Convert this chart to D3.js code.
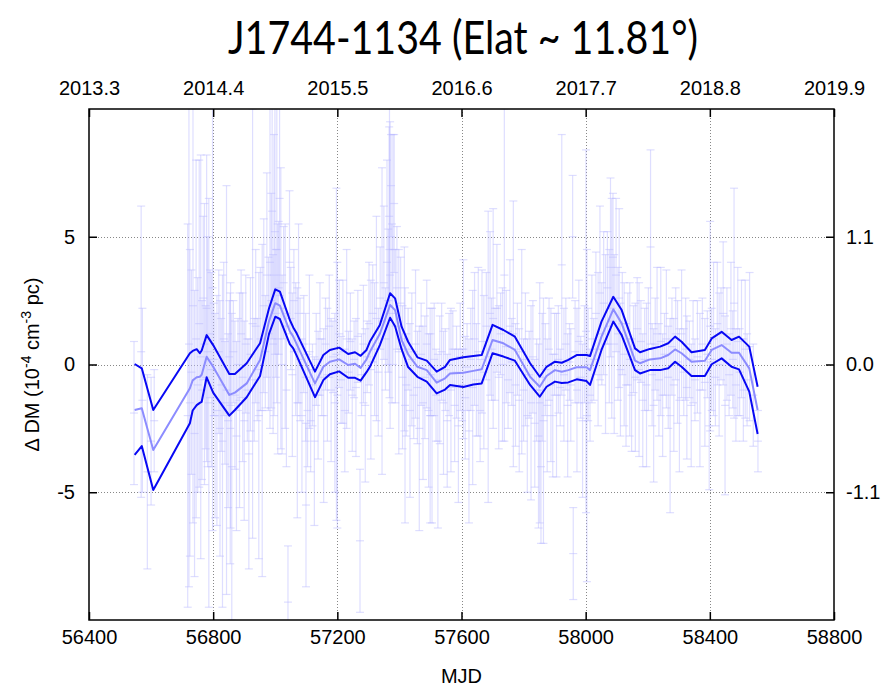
<!DOCTYPE html>
<html><head><meta charset="utf-8">
<script src="https://cdn.jsdelivr.net/npm/d3@7"></script>
<style>body{margin:0;background:#fff}</style>
</head><body>
<svg id="chart" width="886" height="688"></svg>
<script>
const titleText = "J1744-1134 (Elat ~ 11.81°)";
const xLabel = "MJD";
const xTicks = [56400, 56800, 57200, 57600, 58000, 58400, 58800];
const topTickLabels = ["2013.3", "2014.4", "2015.5", "2016.6", "2017.7", "2018.8", "2019.9"];
const yTicks = [-5, 0, 5];
const rightTicks = [-1.1, 0, 1.1];

// smoothed DM curve (mid) and its upper / lower envelope
const curveMJD = [56547,56570,56607,56725,56734,56747,56757,56763,56779,56800,56852,56870,56908,56951,56980,57000,57015,57047,57058,57069,57128,57155,57176,57206,57235,57257,57275,57294,57305,57337,57370,57386,57407,57428,57458,57488,57520,57547,57563,57606,57638,57665,57700,57735,57772,57821,57852,57874,57901,57923,57944,57971,58003,58014,58051,58089,58116,58159,58175,58207,58240,58266,58288,58309,58341,58384,58406,58438,58470,58494,58527,58554];
const curveUpper = [0.02,-0.15,-1.78,0.44,0.53,0.60,0.44,0.55,1.15,0.76,-0.37,-0.37,0.05,0.83,2.20,2.94,2.85,1.74,1.45,1.22,-0.28,0.37,0.57,0.66,0.41,0.48,0.34,0.57,0.90,1.55,2.79,2.59,1.48,0.89,0.28,0.15,-0.28,-0.09,0.18,0.28,0.33,0.37,1.55,1.35,1.09,0.05,-0.48,-0.09,0.11,0.07,0.18,0.37,0.37,0.33,1.68,2.65,2.13,0.63,0.48,0.61,0.70,0.83,1.09,0.89,0.48,0.57,1.02,1.28,0.96,1.09,0.70,-0.87];
const curveMid = [-1.78,-1.71,-3.35,-0.93,-0.62,-0.50,-0.48,-0.40,0.30,-0.09,-1.19,-1.10,-0.74,0.18,1.70,2.40,2.30,1.30,1.09,0.80,-0.74,-0.09,0.11,0.20,-0.02,0.03,-0.13,0.20,0.50,1.20,2.33,2.13,0.96,0.40,-0.09,-0.22,-0.71,-0.54,-0.35,-0.32,-0.25,-0.19,0.96,0.83,0.57,-0.48,-0.87,-0.45,-0.22,-0.28,-0.22,-0.11,-0.11,-0.22,1.09,2.16,1.61,0.15,0.05,0.20,0.24,0.37,0.59,0.44,0.11,0.15,0.57,0.76,0.46,0.46,-0.15,-1.78];
const curveLower = [-3.54,-3.19,-4.91,-2.30,-1.80,-1.59,-1.50,-1.46,-0.50,-1.10,-2.00,-1.78,-1.28,-0.45,1.20,1.87,1.78,0.80,0.63,0.35,-1.28,-0.61,-0.38,-0.27,-0.52,-0.52,-0.63,-0.30,-0.09,0.76,1.83,1.50,0.60,-0.10,-0.48,-0.67,-1.13,-0.98,-0.80,-0.88,-0.78,-0.74,0.44,0.31,0.15,-0.80,-1.26,-0.87,-0.67,-0.72,-0.70,-0.58,-0.65,-0.80,0.57,1.68,1.15,-0.22,-0.35,-0.22,-0.22,-0.15,0.11,-0.09,-0.45,-0.45,0.01,0.24,-0.09,-0.19,-1.06,-2.72];

// individual measurements: [MJD, ΔDM, error]
const obs2013 = [[56545,-1.9,2.8],[56568,0.5,5.7],[56572,-1.4,3.6],[56588,-4.2,3.8],[56600,-3.0,2.5],[56610,-2.2,2.0]];
const obs2014 = [[56718,-2.0,7.5],[56722,0.8,9.5],[56725,-1.5,6.0],[56730,-0.3,4.0],[56735,2.3,8.5],[56740,-2.7,5.6],[56745,1.0,7.0],[56750,-0.8,4.2],[56755,1.6,6.4],[56760,0.3,7.9],[56764,-1.0,3.5],[56768,2.6,3.2],[56772,0.8,5.5],[56776,-0.5,2.8],[56779,2.2,6.0],[56782,0.5,4.5],[56786,-1.5,8.0],[56790,1.2,2.5],[56794,-0.2,3.8],[56798,3.0,9.5],[56802,0.2,2.2],[56806,-2.0,4.0],[56812,-1.8,4.5],[56818,0.5,3.2],[56822,-2.5,5.0],[56826,-0.8,2.6],[56830,-3.0,6.5],[56834,1.0,3.0],[56838,-1.5,2.4],[56843,-1.0,8.0],[56848,-2.2,3.4],[56852,0.3,2.2],[56855,-2.5,5.3],[56856,-1.6,4.8],[56860,-4.0,6.0],[56865,0.5,2.0],[56870,-1.2,2.9],[56875,-2.8,3.7],[56880,0.0,1.8],[56885,-1.4,4.2],[56890,1.2,2.5],[56895,-0.5,3.3],[56900,-2.2,3.9],[56905,0.8,2.7],[56910,-1.0,2.0],[56915,-3.5,4.5],[56920,0.4,3.0],[56927,1.6,8.4],[56932,-0.6,2.4],[56937,1.5,3.0],[56942,-0.2,2.0],[56947,-2.0,5.6],[56952,1.0,2.8],[56958,-1.8,6.5],[56963,2.3,3.4],[56968,0.5,2.2],[56973,3.5,4.0],[56978,1.2,3.0],[56983,4.0,6.5],[56987,2.5,4.2],[56990,6.0,5.0],[56993,0.8,3.5],[56996,3.5,5.5],[56999,5.2,4.8],[57002,2.0,2.5],[57005,4.5,6.0],[57008,1.0,4.5],[57011,3.0,2.6],[57014,6.5,3.8],[57018,2.2,5.5],[57022,0.0,3.5],[57027,3.2,2.2],[57032,1.5,4.0],[57036,-1.0,3.0],[57041,-9.3,2.2],[57046,4.0,2.8],[57050,1.8,2.0],[57055,-0.4,3.2],[57060,2.5,2.0],[57066,0.6,2.6],[57071,-1.5,4.5],[57075,2.0,3.5],[57080,0.2,2.4],[57086,-2.0,3.0],[57092,0.8,1.9],[57098,-0.5,2.5],[57099,-5.5,3.2],[57104,-1.8,2.2],[57110,0.5,3.0],[57114,-2.2,2.0],[57120,-0.8,1.6],[57126,-3.0,3.3],[57132,0.2,1.8]];
const obs2015 = [[57138,-1.2,2.5],[57144,1.0,2.2],[57150,-0.5,1.5],[57156,-2.0,3.4],[57162,0.8,1.8],[57168,-0.4,2.6],[57174,1.5,2.0],[57180,-1.0,2.8],[57186,0.3,1.4],[57192,-1.5,3.5],[57197,0.4,6.5],[57200,-1.2,5.2],[57206,1.2,2.1],[57212,-0.6,1.7],[57218,0.5,2.8],[57224,-1.8,2.4],[57230,1.0,3.5],[57236,-0.3,1.6],[57242,0.9,1.9],[57248,-1.2,2.2],[57254,0.2,1.5],[57260,-0.9,2.7],[57266,1.1,1.8],[57273,-6.9,2.8],[57278,-0.4,1.6],[57284,0.8,2.3],[57290,-1.6,3.0],[57296,0.3,1.4],[57302,1.6,2.4],[57308,-0.2,3.5],[57314,2.0,1.9],[57320,0.6,2.6],[57326,1.8,4.0],[57332,-0.3,2.5],[57338,2.6,2.0],[57344,1.7,6.0],[57350,3.2,3.0],[57355,1.0,2.0],[57360,4.0,4.0],[57364,2.5,2.8],[57367,5.8,3.5],[57368,4.5,5.8],[57370,3.5,6.0],[57373,7.0,2.0],[57376,2.0,3.5],[57379,4.5,4.5],[57383,6.3,2.7],[57387,1.5,3.0],[57392,3.0,2.4],[57398,0.5,4.0],[57404,2.4,1.8],[57410,-0.5,2.8],[57416,1.0,3.6],[57418,-1.6,4.6],[57422,-0.8,2.0],[57428,0.6,1.6],[57434,-1.8,3.4],[57440,0.2,2.6],[57446,-1.2,1.7],[57452,0.8,2.9],[57458,-0.9,2.2],[57464,-2.5,4.0],[57470,0.4,2.0],[57476,-1.5,3.0]];
const obs2016 = [[57482,-0.5,2.4],[57488,0.8,2.5],[57494,-1.8,3.0],[57499,-2.0,4.2],[57500,-0.4,1.6],[57505,-2.0,4.2],[57512,0.2,2.2],[57518,-1.2,1.8],[57524,-3.0,3.4],[57530,-0.6,2.5],[57536,0.5,1.9],[57542,-1.5,2.8],[57548,-0.2,1.6],[57554,-2.2,2.6],[57560,0.0,2.0],[57566,-1.0,3.2],[57572,0.6,1.5],[57578,-1.6,2.2],[57584,-0.3,1.8],[57590,-2.4,3.0],[57596,0.3,2.1],[57602,-0.8,1.4],[57606,0.6,3.5],[57612,-1.3,2.4],[57618,-0.1,1.7],[57624,-2.6,3.6],[57630,0.2,2.0],[57636,-0.9,3.8],[57642,1.0,2.6],[57648,-0.6,2.2],[57654,0.5,3.3],[57660,-1.8,2.0],[57666,0.9,2.8],[57672,-0.3,3.0],[57680,1.5,2.1],[57686,0.3,5.7],[57692,2.0,3.2],[57697,0.6,2.0],[57702,1.8,4.3],[57708,0.4,1.8],[57714,2.2,2.5],[57720,-0.5,2.8],[57726,1.2,1.6],[57732,0.0,3.0],[57738,3.5,6.5],[57744,0.7,2.2],[57750,-0.6,1.9],[57756,1.5,2.6],[57762,0.1,1.7],[57767,1.2,5.2],[57774,-0.8,2.4],[57780,0.6,1.8],[57786,-1.4,2.8],[57794,0.5,4.0],[57800,-1.0,2.0],[57806,0.2,2.6],[57812,-2.0,3.0],[57818,-0.4,1.7],[57824,-1.5,3.8],[57830,0.3,2.2],[57836,-2.3,2.5]];
const obs2017 = [[57842,-1.0,2.0],[57848,-2.8,3.6],[57852,-1.5,4.7],[57856,-4.0,3.0],[57860,-0.5,2.5],[57864,-2.2,4.8],[57870,-0.2,1.8],[57876,-1.6,2.6],[57882,0.6,2.0],[57888,-0.8,3.0],[57894,-2.0,2.4],[57900,0.4,1.6],[57906,-1.2,3.2],[57912,0.2,2.1],[57918,-0.9,1.5],[57923,3.9,5.1],[57930,-0.4,2.6],[57936,0.8,1.8],[57942,-1.6,2.8],[57948,0.1,1.5],[57952,-0.8,2.2],[57958,5.0,2.4],[57960,-7.4,1.8],[57966,0.5,2.0],[57972,-1.0,3.2],[57978,0.9,2.4],[57984,-0.5,1.6],[57990,-2.2,3.0],[57996,0.4,1.9],[58001,1.3,7.1],[58004,-2.0,6.5],[58008,0.0,2.2],[58014,-1.2,1.8],[58020,1.0,2.5],[58026,0.2,1.6],[58033,2.0,2.4],[58040,0.6,3.0],[58046,2.8,3.4],[58052,1.2,2.0],[58058,2.4,2.8],[58064,0.8,3.5],[58070,3.0,2.2],[58076,1.5,3.0],[58080,3.8,3.5],[58084,2.2,4.3],[58088,4.2,2.5],[58092,0.8,3.5],[58098,3.5,3.0],[58104,1.2,2.6],[58108,2.6,3.5],[58112,-0.2,2.6],[58118,1.6,2.0],[58124,0.4,2.8],[58130,-0.8,2.4],[58136,1.0,1.8],[58142,0.2,3.0],[58148,-1.2,2.2],[58154,0.6,1.7],[58160,-0.5,2.9],[58166,1.4,2.0],[58172,-0.2,3.4],[58178,0.9,1.6],[58184,-1.4,2.6],[58190,0.2,2.0],[58196,-0.8,3.2]];
const obs2018 = [[58202,0.6,2.4],[58209,4.6,3.8],[58214,-0.4,2.0],[58219,-1.6,3.0],[58224,0.8,1.8],[58230,1.2,2.6],[58236,-0.6,2.2],[58242,0.9,2.9],[58248,-1.2,2.4],[58254,0.4,1.6],[58260,1.0,2.7],[58266,-0.5,2.0],[58272,-2.0,3.8],[58278,0.7,1.9],[58284,-0.8,2.6],[58290,1.2,1.8],[58296,0.1,2.4],[58302,-1.4,2.8],[58309,1.2,2.5],[58316,-0.3,1.7],[58322,0.6,2.0],[58326,-0.9,2.8],[58334,0.2,1.5],[58340,-1.6,2.4],[58346,0.5,2.0],[58352,-0.6,1.6],[58360,0.3,2.2],[58368,-1.0,3.0],[58376,0.8,1.8],[58384,-0.7,2.5],[58392,0.4,1.7],[58398,-2.4,2.5],[58401,1.5,4.1],[58406,0.2,2.0],[58412,1.0,3.0],[58418,-0.5,1.9],[58424,1.6,2.4],[58430,0.0,2.8],[58436,1.2,1.8],[58443,2.0,2.8],[58449,-1.6,3.5],[58455,0.8,2.2],[58462,-0.4,1.6],[58468,1.4,2.6],[58474,0.2,1.9],[58478,2.4,4.5],[58484,-0.8,2.2],[58490,0.9,2.9],[58496,-0.3,1.7],[58502,1.0,2.3],[58508,-1.0,2.0],[58514,0.6,2.7],[58520,-0.6,1.8],[58528,0.7,2.9],[58540,-1.2,2.0],[58555,-3.0,1.2]];

const observations = [].concat(obs2013, obs2014, obs2015, obs2016, obs2017, obs2018);

const W = 886, H = 688;
const margin = {left: 89, right: 52, top: 109, bottom: 68};
const pw = W - margin.left - margin.right, ph = H - margin.top - margin.bottom;

const svg = d3.select("#chart");
const x = d3.scaleLinear().domain([56400, 58800]).range([margin.left, margin.left + pw]);
const y = d3.scaleLinear().domain([-10, 10]).range([margin.top + ph, margin.top]);
const yR = d3.scaleLinear().domain([-2.2, 2.2]).range([margin.top + ph, margin.top]);

const tickFont = "'Liberation Sans', Arial, sans-serif";
const tickSize = 20;
const hyphen = s => s.replace("\u2212", "-");

svg.append("defs").append("clipPath").attr("id", "clip")
  .append("rect").attr("x", margin.left).attr("y", margin.top).attr("width", pw).attr("height", ph);

// grid
const grid = svg.append("g").attr("stroke", "#888").attr("stroke-width", 1).attr("stroke-dasharray", "1,2");
grid.selectAll("line.gx").data(xTicks.slice(1, -1)).join("line")
  .attr("x1", d => Math.round(x(d)) + 0.5).attr("x2", d => Math.round(x(d)) + 0.5)
  .attr("y1", margin.top).attr("y2", margin.top + ph);
grid.selectAll("line.gy").data(yTicks).join("line")
  .attr("y1", d => Math.round(y(d)) + 0.5).attr("y2", d => Math.round(y(d)) + 0.5)
  .attr("x1", margin.left).attr("x2", margin.left + pw);

// error bars
const eb = svg.append("g").attr("clip-path", "url(#clip)")
  .attr("stroke", "rgb(185,185,255)").attr("stroke-opacity", 0.48).attr("stroke-width", 1.2);
const capW = 4;
const bars = eb.selectAll("g").data(observations).join("g");
bars.append("line").attr("x1", d => x(d[0])).attr("x2", d => x(d[0]))
  .attr("y1", d => y(d[1] - d[2])).attr("y2", d => y(d[1] + d[2]));
bars.append("line").attr("x1", d => x(d[0]) - capW).attr("x2", d => x(d[0]) + capW)
  .attr("y1", d => y(d[1] + d[2])).attr("y2", d => y(d[1] + d[2]));
bars.append("line").attr("x1", d => x(d[0]) - capW).attr("x2", d => x(d[0]) + capW)
  .attr("y1", d => y(d[1] - d[2])).attr("y2", d => y(d[1] - d[2]));
bars.append("line").attr("x1", d => x(d[0]) - capW).attr("x2", d => x(d[0]) + capW)
  .attr("y1", d => y(d[1])).attr("y2", d => y(d[1]));

// curves
const line = vals => d3.line().x((d, i) => x(curveMJD[i])).y((d, i) => y(vals[i]))(vals);
const cg = svg.append("g").attr("clip-path", "url(#clip)").attr("fill", "none")
  .attr("stroke-linejoin", "round");
cg.append("path").attr("d", line(curveMid)).attr("stroke", "#8c8cff").attr("stroke-width", 2);
cg.append("path").attr("d", line(curveUpper)).attr("stroke", "#0808f4").attr("stroke-width", 2);
cg.append("path").attr("d", line(curveLower)).attr("stroke", "#0808f4").attr("stroke-width", 2);

// axes (inward ticks)
function styleAxis(g) {
  g.select(".domain").remove();
  g.selectAll(".tick line").attr("stroke", "#000").attr("stroke-width", 1.5);
  g.selectAll(".tick text").attr("font-family", tickFont).attr("font-size", tickSize).attr("fill", "#000");
}
const tk = 8;
svg.append("g").attr("transform", `translate(0,${margin.top + ph})`)
  .call(d3.axisBottom(x).tickValues(xTicks).tickFormat(d3.format("d")).tickSizeInner(-tk).tickSizeOuter(0).tickPadding(10))
  .call(styleAxis);
svg.append("g").attr("transform", `translate(0,${margin.top})`)
  .call(d3.axisTop(x).tickValues(xTicks).tickFormat((d, i) => topTickLabels[i]).tickSizeInner(-tk).tickSizeOuter(0).tickPadding(14))
  .call(styleAxis);
svg.append("g").attr("transform", `translate(${margin.left},0)`)
  .call(d3.axisLeft(y).tickValues(yTicks).tickFormat(d => hyphen(d3.format("d")(d))).tickSizeInner(-tk).tickSizeOuter(0).tickPadding(14))
  .call(styleAxis);
svg.append("g").attr("transform", `translate(${margin.left + pw},0)`)
  .call(d3.axisRight(yR).tickValues(rightTicks).tickFormat(d => hyphen(d3.format(".1f")(d))).tickSizeInner(-tk).tickSizeOuter(0).tickPadding(12))
  .call(styleAxis);

// frame
svg.append("rect").attr("x", margin.left).attr("y", margin.top).attr("width", pw).attr("height", ph)
  .attr("fill", "none").attr("stroke", "#000").attr("stroke-width", 1.5);

// title
svg.append("text").attr("x", 463).attr("y", 54).attr("text-anchor", "middle")
  .attr("font-family", "Lato, 'Open Sans', sans-serif").attr("font-size", 46)
  .attr("textLength", 470).attr("lengthAdjust", "spacingAndGlyphs")
  .text(titleText);

// x label
svg.append("text").attr("x", margin.left + pw / 2).attr("y", 683).attr("text-anchor", "middle")
  .attr("font-family", tickFont).attr("font-size", tickSize).text(xLabel);

// y label
const yl = svg.append("text").attr("transform", `translate(39,${margin.top + ph / 2}) rotate(-90)`)
  .attr("text-anchor", "middle").attr("font-family", tickFont).attr("font-size", tickSize);
yl.append("tspan").text("Δ DM (10");
yl.append("tspan").attr("dy", -8).attr("font-size", 14).text("-4");
yl.append("tspan").attr("dy", 8).text(" cm");
yl.append("tspan").attr("dy", -8).attr("font-size", 14).text("-3");
yl.append("tspan").attr("dy", 8).text(" pc)");
</script>
</body></html>
